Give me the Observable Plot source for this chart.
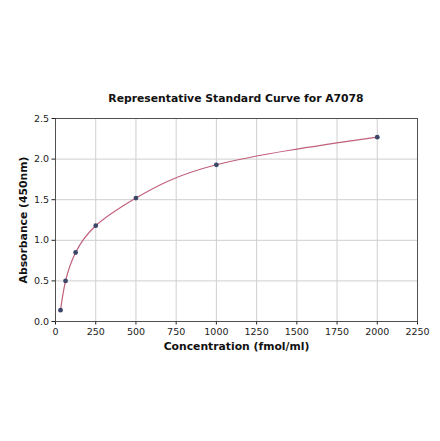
<!DOCTYPE html>
<html>
<head>
<meta charset="utf-8">
<script src="https://cdn.jsdelivr.net/npm/d3@7"></script>
<script src="https://cdn.jsdelivr.net/npm/@observablehq/plot@0.6"></script>
<style>
  body { margin: 0; background: #fff; font-family: "DejaVu Sans", sans-serif; }
  #titulo { position: absolute; top: 92px; left: 55px; width: 362px; text-align: center;
            font-weight: bold; font-size: 10.8px; color: #111; }
  #grafico { position: absolute; top: 108px; left: 0; }
</style>
</head>
<body>
<div id="titulo">Representative Standard Curve for A7078</div>
<div id="grafico"></div>
<script>
// concentraciones del estandar y absorbancia leida
const conc = [31.25, 62.5, 125, 250, 500, 1000, 2000];
const absorb = [0.14, 0.50, 0.85, 1.18, 1.52, 1.93, 2.27];
const xTicks = [0, 250, 500, 750, 1000, 1250, 1500, 1750, 2000, 2250];
const yTicks = [0, 0.5, 1.0, 1.5, 2.0, 2.5];

const datos = conc.map((c, i) => ({conc: c, abs: absorb[i]}));

let chart = Plot.plot({
  width: 440,
  height: 250,
  marginLeft: 55,
  marginRight: 23,
  marginTop: 10,
  marginBottom: 37,
  style: {fontFamily: "DejaVu Sans, sans-serif", fontSize: "9.5px", color: "#222"},
  x: {domain: [0, 2250], label: null},
  y: {domain: [0, 2.5], label: null},
  marks: [
    Plot.gridX(xTicks, {stroke: "#cfcfcf", strokeOpacity: 1}),
    Plot.gridY(yTicks, {stroke: "#cfcfcf", strokeOpacity: 1}),
    Plot.axisX({ticks: xTicks, tickSize: 3.5, tickPadding: 3, tickFormat: d3.format("d")}),
    Plot.axisY({ticks: yTicks, tickSize: 3.5, tickPadding: 3, tickFormat: d3.format(".1f")}),
    Plot.line(datos, {x: "conc", y: "abs", curve: "natural", stroke: "#c0607a", strokeWidth: 1.2}),
    Plot.dot(datos, {x: "conc", y: "abs", r: 2.4, fill: "#3c4668", stroke: "none"}),
    Plot.frame({stroke: "#444", strokeWidth: 0.9}),
    Plot.text(["Concentration (fmol/ml)"], {frameAnchor: "bottom", dy: 28, fontWeight: "bold", fontSize: 10.8, fill: "#111"}),
    Plot.text(["Absorbance (450nm)"], {frameAnchor: "left", dx: -32, rotate: -90, textAnchor: "middle", fontWeight: "bold", fontSize: 10.8, fill: "#111"})
  ]
});

d3.select('#grafico svg').remove()
d3.select('#grafico').append(() => chart)
</script>
</body>
</html>
